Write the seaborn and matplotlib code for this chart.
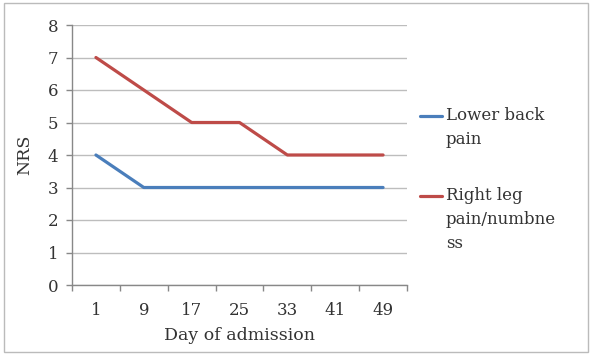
import matplotlib
matplotlib.use("Agg")
import matplotlib.pyplot as plt
import seaborn as sns
import pandas as pd
from matplotlib.patches import Rectangle
from matplotlib.lines import Line2D

days = ["1", "9", "17", "25", "33", "41", "49"]
lower_back = [4, 3, 3, 3, 3, 3, 3]
right_leg = [7, 6, 5, 5, 4, 4, 4]
series_names = ["Lower back\npain", "Right leg\npain/numbne\nss"]
colors = ["#4A7EBB", "#BE4B48"]

sns.set_theme(style="white")
plt.rcParams['font.family'] = ['DejaVu Serif']

df = pd.DataFrame({
    "pos": list(range(len(days))) * 2,
    "value": lower_back + right_leg,
    "series": [series_names[0]] * len(days) + [series_names[1]] * len(days),
})

W, H = 596, 354
fig = plt.figure(figsize=(W/100, H/100), dpi=100)
ax = fig.add_axes([72/W, 1-285/H, (407-72)/W, (285-25)/H])

sns.lineplot(data=df, x="pos", y="value", hue="series", palette=colors,
             linewidth=2.3, ax=ax, legend=False)

ax.set_xlim(-0.5, len(days) - 0.5)
ax.set_ylim(0, 8)
ax.set_yticks(range(0, 9))
ax.yaxis.grid(True, color="#BDBDBD", linewidth=1)
ax.set_axisbelow(True)
ax.set_xticks(range(len(days)))
ax.set_xticklabels(days)
ax.set_xticks([i - 0.5 for i in range(len(days) + 1)], minor=True)
ax.tick_params(axis="x", which="major", length=0, pad=12, labelsize=12, labelcolor="#333333")
ax.tick_params(axis="x", which="minor", length=4, width=1, color="#888888", direction="out", bottom=True)
ax.tick_params(axis="y", length=4, width=1, color="#888888", direction="out", left=True, pad=6,
               labelsize=12, labelcolor="#333333")
for s in ["top", "right"]:
    ax.spines[s].set_visible(False)
for s in ["left", "bottom"]:
    ax.spines[s].set_color("#888888")
    ax.spines[s].set_linewidth(1)

ax.set_xlabel("Day of admission", fontsize=12.5, color="#333333", labelpad=6)
ax.set_ylabel("NRS", fontsize=12.5, color="#333333", labelpad=10)

# manual legend: handle aligned with first text line
legend_tops = [116, 196]
for name, c, y0 in zip(series_names, colors, legend_tops):
    fig.add_artist(Line2D([420/W, 442/W], [1-y0/H, 1-y0/H], color=c, linewidth=2.3,
                          transform=fig.transFigure))
    fig.text(446/W, 1-(y0-9)/H, name, fontsize=12, color="#333333", va="top", ha="left",
             linespacing=1.55)

fig.patches.append(Rectangle((4/W, 2/H), 584/W, 349/H, transform=fig.transFigure,
                             fill=False, edgecolor="#BBBBBB", linewidth=1))

fig.savefig("out.png", dpi=100)
